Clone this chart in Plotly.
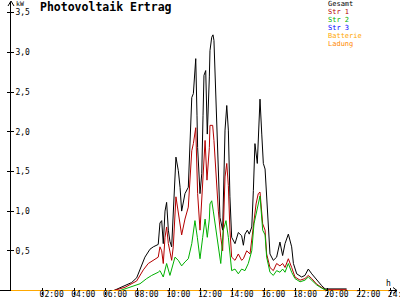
import plotly.graph_objects as go

# ---------------- data ----------------
gesamt_h = [6.5, 6.99, 7.2, 7.62, 7.94, 8.26, 8.46, 8.78, 8.99, 9.3, 9.41, 9.52, 9.62, 9.73, 9.83,
            9.94, 10.04, 10.15, 10.23, 10.42, 10.57, 10.68, 10.78, 10.99, 11.2, 11.31, 11.42, 11.52,
            11.62, 11.67, 11.75, 11.79, 11.94, 12.05, 12.13, 12.19, 12.3, 12.4, 12.53, 12.57, 12.68,
            12.76, 12.82, 12.89, 13.0, 13.1, 13.2, 13.37, 13.52, 13.63, 13.73, 13.83, 13.94, 14.15,
            14.36, 14.57, 14.68, 14.78, 14.93, 15.05, 15.21, 15.31, 15.41, 15.56, 15.67, 15.73, 15.84,
            15.94, 16.05, 16.15, 16.25, 16.36, 16.57, 16.78, 16.99, 17.16, 17.31, 17.52, 17.73, 17.84,
            18.05, 18.36, 18.57, 18.78, 19.0, 19.31, 19.63, 19.84, 21.2]
gesamt_v = [0.0, 0.04, 0.06, 0.1, 0.16, 0.33, 0.42, 0.52, 0.55, 0.58, 0.85, 0.88, 0.59, 1.0, 1.11,
            0.76, 0.62, 0.55, 0.86, 1.68, 1.51, 1.3, 1.0, 1.22, 1.3, 1.9, 2.43, 2.48,
            2.8, 2.92, 2.2, 1.8, 1.22, 1.47, 2.2, 2.71, 2.77, 1.97, 2.69, 3.02, 3.19,
            3.22, 3.15, 2.77, 2.02, 1.39, 0.92, 0.76, 2.02, 2.33, 2.02, 1.18, 0.67, 0.59,
            0.73, 0.69, 0.57, 0.71, 0.76, 0.71, 0.8, 1.26, 1.85, 1.6, 2.2, 2.41, 1.97,
            1.6, 1.53, 1.18, 0.84, 0.46, 0.38, 0.42, 0.61, 0.44, 0.59, 0.71, 0.55, 0.34,
            0.21, 0.17, 0.19, 0.27, 0.21, 0.13, 0.06, 0.02, 0.02]

str1_h = [6.5, 7.2, 7.94, 8.36, 8.67, 8.99, 9.3, 9.41, 9.52, 9.62, 9.73, 9.83, 9.94, 10.15, 10.25,
          10.42, 10.57, 10.78, 10.99, 11.2, 11.42, 11.52, 11.67, 11.79, 11.94, 12.15, 12.26, 12.38,
          12.53, 12.57, 12.74, 12.82, 12.94, 13.1, 13.25, 13.37, 13.52, 13.63, 13.73, 13.83, 13.94,
          14.15, 14.36, 14.57, 14.68, 14.89, 15.1, 15.21, 15.35, 15.48, 15.62, 15.73, 15.9, 16.05,
          16.15, 16.36, 16.57, 16.78, 16.99, 17.16, 17.31, 17.52, 17.73, 17.94, 18.26, 18.57, 18.78,
          19.0, 19.31, 19.63, 19.84, 21.2]
str1_v = [0.0, 0.04, 0.12, 0.26, 0.34, 0.38, 0.42, 0.55, 0.5, 0.34, 0.67, 0.8, 0.59, 0.38, 0.55,
          1.18, 1.0, 0.7, 0.9, 1.05, 1.76, 1.85, 2.05, 1.22, 0.76, 1.47, 1.89, 1.39,
          1.8, 2.08, 2.08, 1.89, 1.47, 1.0, 0.67, 0.5, 1.43, 1.6, 1.32, 0.76, 0.42,
          0.38, 0.46, 0.38, 0.4, 0.5, 0.46, 0.63, 0.92, 1.09, 1.22, 1.24, 0.84, 0.76,
          0.46, 0.29, 0.25, 0.34, 0.31, 0.34, 0.29, 0.4, 0.29, 0.17, 0.13, 0.15, 0.19,
          0.15, 0.08, 0.04, 0.01, 0.01]

str2_h = [6.9, 7.5, 8.15, 8.57, 8.89, 9.3, 9.41, 9.62, 9.83, 10.04, 10.36, 10.57, 10.78, 10.99, 11.2,
          11.42, 11.62, 11.77, 11.94, 12.11, 12.26, 12.4, 12.53, 12.57, 12.68, 12.78, 12.94, 13.1,
          13.25, 13.41, 13.58, 13.73, 13.83, 13.94, 14.15, 14.36, 14.57, 14.78, 14.99, 15.21, 15.35,
          15.52, 15.62, 15.73, 15.9, 16.05, 16.15, 16.36, 16.57, 16.78, 16.99, 17.16, 17.31, 17.52,
          17.73, 17.94, 18.26, 18.57, 18.78, 19.0, 19.31, 19.63, 19.84, 20.1]
str2_v = [0.0, 0.04, 0.085, 0.15, 0.19, 0.23, 0.25, 0.17, 0.34, 0.19, 0.42, 0.38, 0.31, 0.36, 0.4,
          0.59, 0.88, 0.67, 0.4, 0.67, 0.9, 0.67, 0.9, 1.09, 1.13, 1.0, 0.76, 0.55,
          0.34, 0.76, 0.88, 0.67, 0.42, 0.25, 0.27, 0.21, 0.27, 0.25, 0.34, 0.5, 0.84,
          1.0, 1.13, 1.19, 0.76, 0.7, 0.42, 0.23, 0.19, 0.25, 0.23, 0.27, 0.23, 0.34,
          0.23, 0.15, 0.11, 0.13, 0.17, 0.13, 0.07, 0.03, 0.01, 0.0]

str3_h = [0, 24]
str3_v = [0, 0]
batterie_h = [0, 24]
batterie_v = [0, 0]
ladung_h = [0, 24]
ladung_v = [0, 0]

x_tickvals = [2, 4, 6, 8, 10, 12, 14, 16, 18, 20, 22, 24]
x_ticktext = ["02:00", "04:00", "06:00", "08:00", "10:00", "12:00",
              "14:00", "16:00", "18:00", "20:00", "22:00", "24:00"]
y_tickvals = [0.5, 1.0, 1.5, 2.0, 2.5, 3.0, 3.5]
y_ticktext = ["0,5", "1,0", "1,5", "2,0", "2,5", "3,0", "3,5"]

legend_names = ["Gesamt", "Str 1", "Str 2", "Str 3", "Batterie", "Ladung"]
colors = ["#000000", "#b40000", "#00b000", "#0000ff", "#ffa800", "#ff8800"]

# ---------------- geometry ----------------
L, T, W, H = 11, 2, 386, 289
ZERO_PX = 290.5            # pixel row centre of the value 0
PX_PER_H = 15.83
PX_PER_KW = 79.4
MONO = "DejaVu Sans Mono"


def px(xp):
    return (xp - L) / W


def py(yp):
    return (T + H - yp) / H


fig = go.Figure()
series = [(gesamt_h, gesamt_v), (str1_h, str1_v), (str2_h, str2_v),
          (str3_h, str3_v), (batterie_h, batterie_v), (ladung_h, ladung_v)]
for i, (hh, vv) in enumerate(series):
    kw = {}
    if legend_names[i] == "Batterie":
        kw = dict(xaxis="x2", yaxis="y2")
    fig.add_trace(go.Scatter(x=hh, y=vv, mode="lines", name=legend_names[i],
                             line=dict(color=colors[i], width=1), showlegend=False,
                             hoverinfo="skip", **kw))

xr = [0, W / PX_PER_H]
yr = [-(T + H - ZERO_PX) / PX_PER_KW, (ZERO_PX - T) / PX_PER_KW]

annotations = [
    dict(text="<b>Photovoltaik Ertrag</b>", xref="paper", yref="paper", x=px(38), y=py(7.5),
         xanchor="left", yanchor="middle", showarrow=False,
         font=dict(family=MONO, size=11.5, color="black")),
    dict(text="kW", xref="paper", yref="paper", x=px(14), y=py(4), xanchor="left",
         yanchor="middle", showarrow=False, font=dict(family=MONO, size=6.5, color="black")),
    dict(text="h", xref="paper", yref="paper", x=px(384), y=py(283), xanchor="left",
         yanchor="middle", showarrow=False, font=dict(family=MONO, size=8, color="black")),
]
leg_y = [4.3, 12.2, 20.1, 28.0, 35.9, 43.8]
for i, name in enumerate(legend_names):
    annotations.append(dict(text=name, xref="paper", yref="paper", x=px(327), y=py(leg_y[i]),
                            xanchor="left", yanchor="middle", showarrow=False, borderpad=0,
                            font=dict(family=MONO, size=7, color=colors[i])))


def path(points):
    return "M " + " L ".join(f"{px(a)},{py(b)}" for a, b in points)


shapes = [
    dict(type="line", xref="paper", yref="paper", x0=px(0), x1=px(397),
         y0=py(ZERO_PX), y1=py(ZERO_PX), line=dict(color="black", width=1), layer="below"),
    dict(type="path", xref="paper", yref="paper", path=path([(8, 6), (11, 1), (14, 6)]),
         line=dict(color="black", width=1)),
    dict(type="path", xref="paper", yref="paper",
         path=path([(393, ZERO_PX - 3), (397, ZERO_PX), (393, ZERO_PX + 3)]),
         line=dict(color="black", width=1)),
]

axis_common = dict(showgrid=False, zeroline=False, fixedrange=True, automargin=False)
fig.update_layout(
    width=400, height=300,
    margin=dict(l=L, r=400 - L - W, t=T, b=300 - T - H, pad=0, autoexpand=False),
    paper_bgcolor="white", plot_bgcolor="white",
    showlegend=False,
    xaxis=dict(range=xr, showline=False,
               ticks="inside", ticklen=3, tickcolor="black", tickwidth=1,
               tickvals=x_tickvals, ticktext=x_ticktext, ticklabelshift=9,
               ticklabelstandoff=-3, ticklabeloverflow="allow",
               tickfont=dict(family=MONO, size=8, color="black"), **axis_common),
    xaxis2=dict(range=xr, overlaying="x", anchor="y", side="bottom", showline=False,
                ticks="outside", ticklen=3, tickcolor="black", tickwidth=1,
                tickvals=x_tickvals, showticklabels=False, **axis_common),
    yaxis=dict(range=yr, showline=True, linecolor="black", linewidth=1,
               ticks="inside", ticklen=3, tickcolor="black", tickwidth=1,
               tickvals=y_tickvals, ticktext=y_ticktext, ticklabelposition="inside",
               tickfont=dict(family=MONO, size=8, color="black"), **axis_common),
    yaxis2=dict(range=yr, overlaying="y", anchor="x", side="left", showline=False,
                ticks="outside", ticklen=3, tickcolor="black", tickwidth=1,
                tickvals=y_tickvals, showticklabels=False, **axis_common),
    annotations=annotations,
    shapes=shapes,
)

fig.write_html("out.html", config=dict(displayModeBar=False, staticPlot=True))
